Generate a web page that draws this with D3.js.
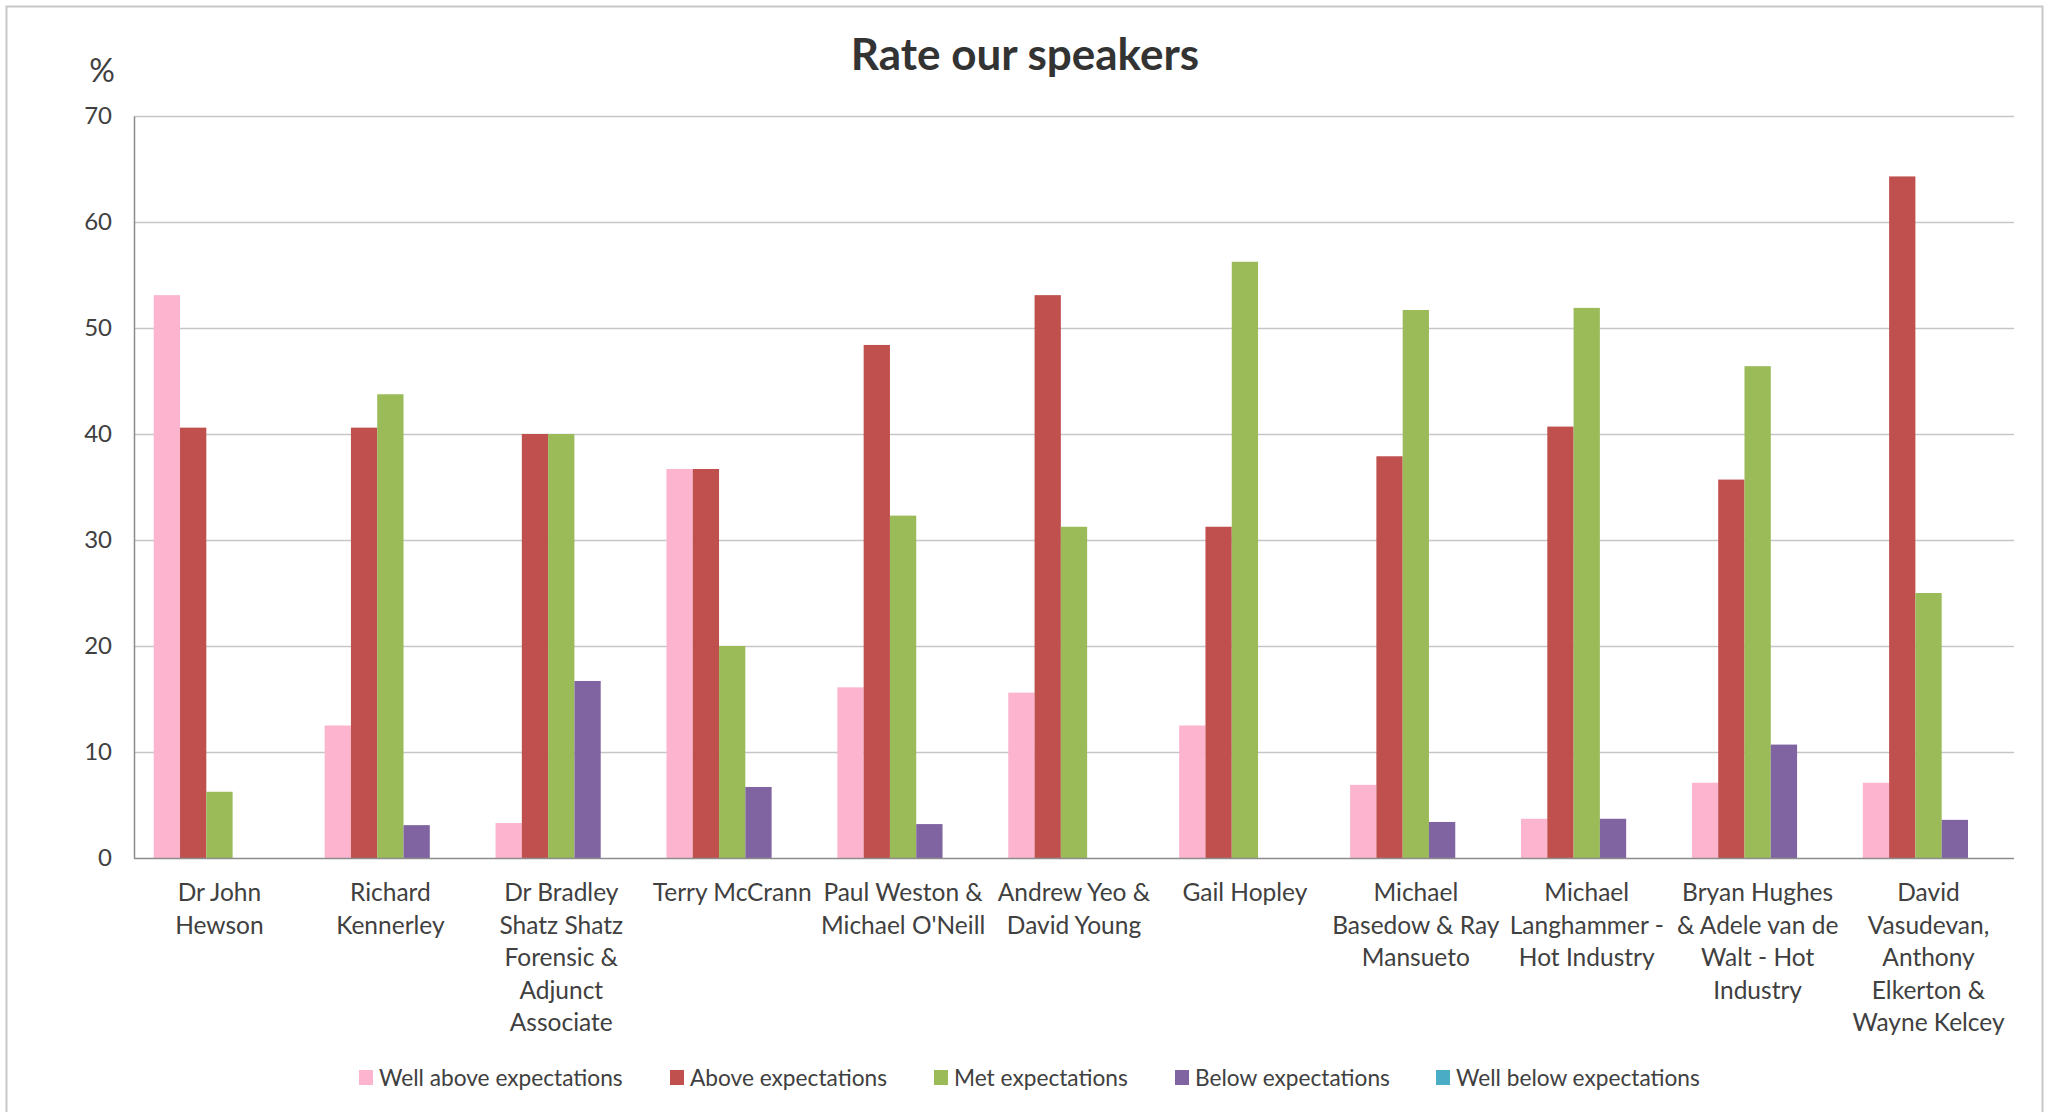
<!DOCTYPE html>
<html>
<head>
<meta charset="utf-8">
<script src="https://cdn.jsdelivr.net/npm/d3@7"></script>
<style>
  body { margin: 0; background: #fff; }
  text { font-family: Lato, "Open Sans", sans-serif; fill: #404040; }
</style>
</head>
<body>
<div class="chart"></div>
<script>
// speakers, each label split the way the chart wraps it
const speakers = [
  ["Dr John", "Hewson"],
  ["Richard", "Kennerley"],
  ["Dr Bradley", "Shatz Shatz", "Forensic &", "Adjunct", "Associate"],
  ["Terry McCrann"],
  ["Paul Weston &", "Michael O'Neill"],
  ["Andrew Yeo &", "David Young"],
  ["Gail Hopley"],
  ["Michael", "Basedow & Ray", "Mansueto"],
  ["Michael", "Langhammer -", "Hot Industry"],
  ["Bryan Hughes", "& Adele van de", "Walt - Hot", "Industry"],
  ["David", "Vasudevan,", "Anthony", "Elkerton &", "Wayne Kelcey"]
];

const seriesNames = ["Well above expectations", "Above expectations", "Met expectations", "Below expectations", "Well below expectations"];
const seriesColors = ["#fdb5cf", "#c0504d", "#9bbb59", "#8064a2", "#4bacc6"];

const wellAbove = [53.1, 12.5, 3.3, 36.7, 16.1, 15.6, 12.5, 6.9, 3.7, 7.1, 7.1];
const above     = [40.6, 40.6, 40.0, 36.7, 48.4, 53.1, 31.25, 37.9, 40.7, 35.7, 64.3];
const met       = [6.25, 43.75, 40.0, 20.0, 32.3, 31.25, 56.25, 51.7, 51.9, 46.4, 25.0];
const below     = [0, 3.1, 16.7, 6.7, 3.2, 0, 0, 3.4, 3.7, 10.7, 3.6];
const wellBelow = [0, 0, 0, 0, 0, 0, 0, 0, 0, 0, 0];

const yTicks = [0, 10, 20, 30, 40, 50, 60, 70];

const allSeries = [wellAbove, above, met, below, wellBelow];

const w = 2047;
const h = 1112;
const plotL = 134, plotR = 2014, plotT = 116, plotB = 858;

const svg = d3.select('.chart')
    .append('svg')
    .attr('width', w)
    .attr('height', h);

// outer frame
svg.append('rect')
    .attr('x', 6.5).attr('y', 6.5)
    .attr('width', 2036).attr('height', 1130)
    .attr('fill', 'none')
    .attr('stroke', '#c8c8c8')
    .attr('stroke-width', 2);

const x = d3.scaleBand()
    .domain(d3.range(speakers.length))
    .range([plotL, plotR])
    .paddingInner(0.2308)
    .paddingOuter(0.1154);

const xs = d3.scaleBand()
    .domain(d3.range(seriesNames.length))
    .range([0, x.bandwidth()]);

const y = d3.scaleLinear().domain([0, 70]).range([plotB, plotT]);

// gridlines
svg.append('g')
    .selectAll('line')
    .data(yTicks.slice(1))
    .enter()
    .append('line')
    .attr('x1', plotL).attr('x2', plotR)
    .attr('y1', d => y(d) + 0.5).attr('y2', d => y(d) + 0.5)
    .attr('stroke', '#c6c6c6')
    .attr('stroke-width', 1.5);

// y axis
const yAxis = svg.append('g')
    .attr('transform', `translate(${plotL},0)`)
    .call(d3.axisLeft(y).tickValues(yTicks).tickSize(0).tickPadding(22));
yAxis.select('.domain').attr('stroke', '#8c8c8c').attr('stroke-width', 1.5);
yAxis.selectAll('text')
    .attr('font-size', 24)
    .attr('fill', '#404040')
    .style('font-family', 'Lato, sans-serif');

// bars
allSeries.forEach((vals, s) => {
    svg.append('g')
        .selectAll('rect')
        .data(vals)
        .enter()
        .append('rect')
        .attr('x', (d, i) => x(i) + xs(s))
        .attr('y', d => y(d))
        .attr('width', xs.bandwidth())
        .attr('height', d => y(0) - y(d))
        .attr('fill', seriesColors[s]);
});

// x axis line
svg.append('line')
    .attr('x1', plotL).attr('x2', plotR)
    .attr('y1', plotB + 0.5).attr('y2', plotB + 0.5)
    .attr('stroke', '#8c8c8c')
    .attr('stroke-width', 1.5);

// category labels
const labels = svg.append('g')
    .selectAll('text')
    .data(speakers)
    .enter()
    .append('text')
    .attr('text-anchor', 'middle')
    .attr('font-size', 24.5);
labels.selectAll('tspan')
    .data((d, i) => d.map(line => ({ line, i })))
    .enter()
    .append('tspan')
    .attr('x', d => x(d.i) + x.bandwidth() / 2)
    .attr('y', (d, j) => 901 + j * 32.5)
    .text(d => d.line);

// title
svg.append('text')
    .attr('x', 1025)
    .attr('y', 70)
    .attr('text-anchor', 'middle')
    .attr('font-size', 44)
    .attr('font-weight', 'bold')
    .style('fill', '#333')
    .text('Rate our speakers');

// unit label
svg.append('text')
    .attr('x', 102)
    .attr('y', 82)
    .attr('text-anchor', 'middle')
    .attr('font-size', 32)
    .text('%');

// legend
const legendX = [359, 670, 934, 1175, 1436];
const legend = svg.append('g')
    .selectAll('g')
    .data(seriesNames)
    .enter()
    .append('g')
    .attr('transform', (d, i) => `translate(${legendX[i]},1078)`);
legend.append('rect')
    .attr('x', 0).attr('y', -8)
    .attr('width', 14).attr('height', 15)
    .attr('fill', (d, i) => seriesColors[i]);
legend.append('text')
    .attr('x', 20)
    .attr('y', 8)
    .attr('font-size', 22.7)
    .text(d => d);
</script>
</body>
</html>
